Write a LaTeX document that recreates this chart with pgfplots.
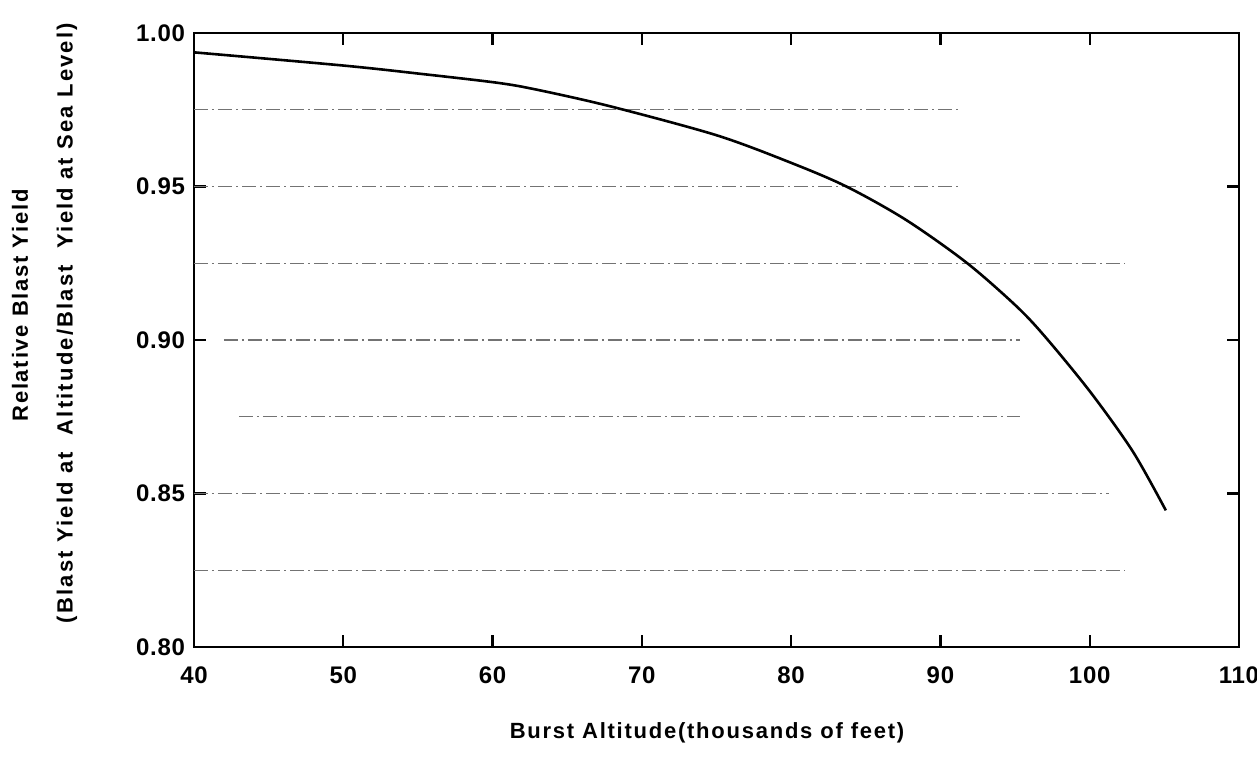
\documentclass[border=0pt]{standalone}
\usepackage{fontspec}
\setmainfont{Liberation Sans}
\newfontfamily\labfont[LetterSpace=8]{Liberation Sans}
\newfontfamily\labfontw[LetterSpace=10]{Liberation Sans}
\newfontfamily\tickfont[LetterSpace=3]{Liberation Sans}
\usepackage{pgfplots}
\pgfplotsset{compat=1.18}
\begin{document}
\begin{tikzpicture}
\begin{axis}[
  at={(0,0)}, anchor=south west,
  scale only axis, width=522.5pt, height=307pt,
  xmin=40, xmax=110, ymin=0.80, ymax=1.00,
  xtick={40,50,60,70,80,90,100,110},
  ytick={0.80,0.85,0.90,0.95,1.00},
  yticklabel style={xshift=-1pt, /pgf/number format/fixed, /pgf/number format/fixed zerofill, /pgf/number format/precision=2},
  /pgf/number format/assume math mode=true,
  tick align=inside, major tick length=6pt,
  axis line style={line width=1.2pt},
  tick style={line width=1.1pt, black},
  ticklabel style={font=\tickfont\bfseries\fontsize{12}{14}\selectfont},
  xticklabel style={yshift=-6.5pt},
  clip=false,
]
\addplot[black!55, line width=0.6pt, dash pattern=on 7pt off 2pt on 1pt off 2pt] coordinates {(40,0.975) (91.3,0.975)};
\addplot[black!55, line width=0.6pt, dash pattern=on 7pt off 2pt on 1pt off 2pt] coordinates {(40,0.95) (91.3,0.95)};
\addplot[black!55, line width=0.6pt, dash pattern=on 7pt off 2pt on 1pt off 2pt] coordinates {(40,0.925) (102.3,0.925)};
\addplot[black!55, line width=0.6pt, dash pattern=on 7pt off 2pt on 1pt off 2pt] coordinates {(42,0.90) (95.3,0.90)};
\addplot[black!55, line width=0.6pt, dash pattern=on 7pt off 2pt on 1pt off 2pt] coordinates {(43,0.875) (95.3,0.875)};
\addplot[black!55, line width=0.6pt, dash pattern=on 7pt off 2pt on 1pt off 2pt] coordinates {(40,0.85) (101.3,0.85)};
\addplot[black!55, line width=0.6pt, dash pattern=on 7pt off 2pt on 1pt off 2pt] coordinates {(40,0.825) (102.3,0.825)};
\addplot[black, line width=1.3pt, smooth, tension=0.5] coordinates {
(40,0.9937) (50,0.9894) (55,0.9868) (60.3,0.9838) (63,0.9815) (67.9,0.9761) (75,0.9667)
(79.9,0.9579) (83.7,0.9500) (87.7,0.9391) (91.8,0.9250) (95.2,0.9105)
(97.2,0.9000) (100.1,0.8827) (102.9,0.8636) (105.1,0.8445)
};
\end{axis}
\node[font=\labfont\bfseries\fontsize{11}{13}\selectfont] at (256.5pt,-43pt) {Burst Altitude(thousands of feet)};
\node[rotate=90, font=\labfont\bfseries\fontsize{11}{13}\selectfont] at (-87pt,170.75pt) {Relative Blast Yield};
\node[rotate=90, font=\labfontw\bfseries\fontsize{11}{13}\selectfont] at (-63.5pt,162pt) {(Blast Yield at\ \ Altitude/Blast\ \ Yield at Sea Level)};
\pgfresetboundingbox
\path[use as bounding box] (-97pt,-56.5pt) rectangle (531.5pt,323.5pt);
\end{tikzpicture}
\end{document}
